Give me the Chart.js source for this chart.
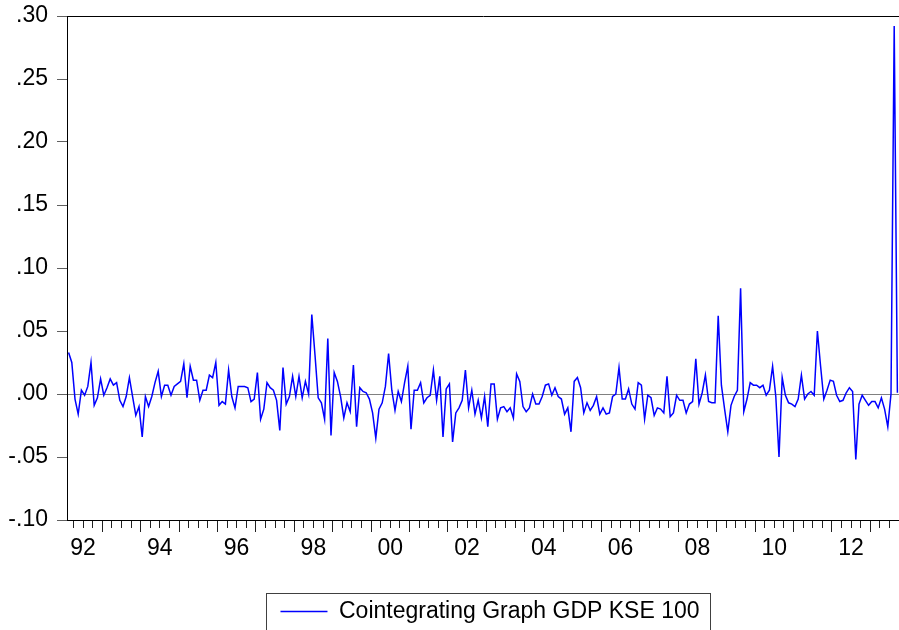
<!DOCTYPE html>
<html>
<head>
<meta charset="utf-8">
<title>Cointegrating Graph GDP KSE 100</title>
<script src="https://cdn.jsdelivr.net/npm/chart.js@4.4.1/dist/chart.umd.min.js"></script>
<style>
  html, body { margin: 0; padding: 0; background: #ffffff; }
  #wrap { width: 899px; height: 630px; position: relative; }
</style>
</head>
<body>
<div id="wrap"><canvas id="myChart"></canvas></div>
<script>
// monthly residuals, first observation 1992M02, last 2013M09
var seriesName = 'Cointegrating Graph GDP KSE 100';
var startYear = 1992;
var startMonth = 2;

var residuals = [
  // 1992 (Feb-Dec)
  0.033, 0.025, -0.004, -0.016, 0.003, -0.001, 0.006, 0.025, -0.009, -0.003, 0.012,
  // 1993
  -0.001, 0.005, 0.012, 0.007, 0.009, -0.005, -0.010, -0.002, 0.013, -0.002, -0.017, -0.010,
  // 1994
  -0.034, -0.002, -0.010, -0.002, 0.009, 0.018, -0.002, 0.007, 0.007, -0.001, 0.006, 0.008,
  // 1995
  0.010, 0.024, -0.003, 0.022, 0.011, 0.011, -0.005, 0.003, 0.003, 0.015, 0.013, 0.025,
  // 1996
  -0.009, -0.006, -0.008, 0.019, -0.002, -0.011, 0.006, 0.006, 0.006, 0.005, -0.006, -0.004,
  // 1997
  0.017, -0.020, -0.012, 0.009, 0.005, 0.003, -0.005, -0.029, 0.021, -0.008, -0.002, 0.014,
  // 1998
  -0.002, 0.014, -0.003, 0.010, 0.000, 0.063, 0.031, -0.003, -0.007, -0.020, 0.044, -0.033,
  // 1999
  0.017, 0.010, -0.002, -0.019, -0.007, -0.014, 0.023, -0.026, 0.005, 0.002, 0.001, -0.004,
  // 2000
  -0.015, -0.035, -0.012, -0.007, 0.006, 0.032, 0.003, -0.013, 0.002, -0.006, 0.009, 0.022,
  // 2001
  -0.028, 0.003, 0.003, 0.009, -0.007, -0.003, -0.001, 0.019, -0.005, 0.014, -0.034, 0.004,
  // 2002
  0.008, -0.038, -0.015, -0.011, -0.005, 0.019, -0.011, 0.003, -0.016, -0.005, -0.019, -0.002,
  // 2003
  -0.026, 0.008, 0.008, -0.020, -0.011, -0.010, -0.014, -0.011, -0.019, 0.016, 0.010, -0.010,
  // 2004
  -0.014, -0.011, 0.000, -0.008, -0.008, -0.002, 0.007, 0.008, -0.001, 0.005, -0.002, -0.004,
  // 2005
  -0.016, -0.011, -0.030, 0.010, 0.013, 0.005, -0.015, -0.007, -0.013, -0.009, -0.002, -0.016,
  // 2006
  -0.011, -0.016, -0.015, -0.002, 0.000, 0.021, -0.004, -0.004, 0.004, -0.008, -0.012, 0.009,
  // 2007
  0.007, -0.020, -0.001, -0.003, -0.017, -0.011, -0.012, -0.015, 0.014, -0.018, -0.015, -0.001,
  // 2008
  -0.005, -0.005, -0.015, -0.008, -0.006, 0.028, -0.008, 0.001, 0.015, -0.006, -0.007, -0.007,
  // 2009
  0.062, 0.007, -0.012, -0.030, -0.009, -0.002, 0.003, 0.084, -0.014, -0.004, 0.009, 0.007,
  // 2010
  0.007, 0.005, 0.007, -0.001, 0.003, 0.022, -0.002, -0.050, 0.013, -0.001, -0.007, -0.008,
  // 2011
  -0.010, -0.004, 0.015, -0.004, 0.000, 0.002, -0.001, 0.050, 0.022, -0.004, 0.003, 0.011,
  // 2012
  0.010, -0.001, -0.006, -0.005, 0.001, 0.005, 0.002, -0.052, -0.008, -0.001, -0.005, -0.009,
  // 2013 (Jan-Sep)
  -0.006, -0.006, -0.011, -0.003, -0.012, -0.026, 0.000, 0.292, 0.001
];

var labelYears = [1992, 1994, 1996, 1998, 2000, 2002, 2004, 2006, 2008, 2010, 2012];
var yearLabels = ['92', '94', '96', '98', '00', '02', '04', '06', '08', '10', '12'];
var yTicks = [-0.10, -0.05, 0.00, 0.05, 0.10, 0.15, 0.20, 0.25, 0.30];

Chart.defaults.font.family = '"Liberation Sans", Arial, sans-serif';
Chart.defaults.font.size = 23;
Chart.defaults.color = '#000000';

// each month sits in the middle of its slot, years start on whole numbers
var points = residuals.map(function (v, k) {
  return { x: startYear + (startMonth - 1 + k + 0.5) / 12, y: v };
});
var xMin = startYear + (startMonth - 1) / 12;
var xMax = startYear + (startMonth - 1 + residuals.length) / 12;

function isWhole(v) {
  return Math.abs(v - Math.round(v)) < 1e-6;
}

// legend sits a little right of the plot centre in the original
var legendShift = {
  id: 'legendShift',
  afterLayout: function (chart) {
    chart.legend.left += 7;
    chart.legend.right += 7;
  }
};

// box drawn round the legend, as in the eviews output
var legendFrame = {
  id: 'legendFrame',
  afterDraw: function (chart) {
    var box = chart.legend.legendHitBoxes[0];
    if (!box) return;
    var c = chart.ctx;
    c.save();
    c.strokeStyle = '#404040';
    c.lineWidth = 1;
    c.strokeRect(Math.round(box.left - 14) + 0.5, Math.round(box.top - 7) + 0.5, Math.round(box.width + 25), 60);
    c.restore();
  }
};

var ctx = document.getElementById('myChart');

var myChart = new Chart(ctx, {
  type: 'line',
  data: {
    datasets: [{
      label: seriesName,
      data: points,
      borderColor: '#0000ff',
      backgroundColor: '#0000ff',
      borderWidth: 1.5,
      pointRadius: 0,
      tension: 0,
      fill: false
    }]
  },
  options: {
    responsive: true,
    maintainAspectRatio: false,
    animation: false,
    layout: { padding: { top: 16, right: 0, bottom: -3, left: 0 } },
    plugins: {
      tooltip: { enabled: false },
      legend: {
        position: 'bottom',
        fullSize: false,
        labels: { boxWidth: 47, boxHeight: 0, padding: 5, color: '#000000', font: { size: 23 } }
      }
    },
    scales: {
      x: {
        type: 'linear',
        position: 'bottom',
        min: xMin,
        max: xMax,
        afterBuildTicks: function (axis) {
          var ticks = [];
          for (var yr = startYear; yr <= Math.ceil(xMax); yr++) {
            for (var q = 0; q < 4; q++) {
              var v = yr + q / 4;
              if (v > xMin && v < xMax) ticks.push({ value: v });
            }
          }
          axis.ticks = ticks;
        },
        afterFit: function (axis) {
          axis.height = 75;
          axis.paddingLeft = 0;
          axis.paddingRight = 0;
        },
        ticks: {
          autoSkip: false,
          maxRotation: 0,
          padding: 3,
          color: '#000000',
          callback: function (value) {
            var yr = value - 0.5;
            if (!isWhole(yr)) return '';
            var idx = labelYears.indexOf(Math.round(yr));
            return idx >= 0 ? yearLabels[idx] : '';
          }
        },
        grid: {
          drawOnChartArea: false,
          tickLength: 12,
          tickColor: '#202020',
          tickBorderDash: function (c) {
            return isWhole(c.tick.value) ? [] : [7, 30];
          }
        },
        border: { color: '#000000', width: 1 }
      },
      xTop: {
        type: 'linear',
        position: 'top',
        min: 0,
        max: 1,
        ticks: { display: false },
        grid: { display: false, drawTicks: false },
        border: { display: true, color: '#000000', width: 1 }
      },
      y: {
        min: -0.10,
        max: 0.30,
        afterBuildTicks: function (axis) {
          axis.ticks = yTicks.map(function (v) { return { value: v }; });
        },
        afterFit: function (axis) {
          axis.width = 67;
          axis.paddingTop = 0;
          axis.paddingBottom = 0;
        },
        ticks: {
          padding: 9,
          color: '#000000',
          callback: function (value) {
            return value.toFixed(2).replace('0.', '.');
          }
        },
        grid: {
          color: function (c) {
            return c.tick && c.tick.value === 0 ? '#808080' : 'rgba(0,0,0,0)';
          },
          tickColor: '#606060',
          tickLength: 10,
          lineWidth: 1
        },
        border: { color: '#000000', width: 1 }
      }
    }
  },
  plugins: [legendShift, legendFrame]
});
</script>
</body>
</html>
